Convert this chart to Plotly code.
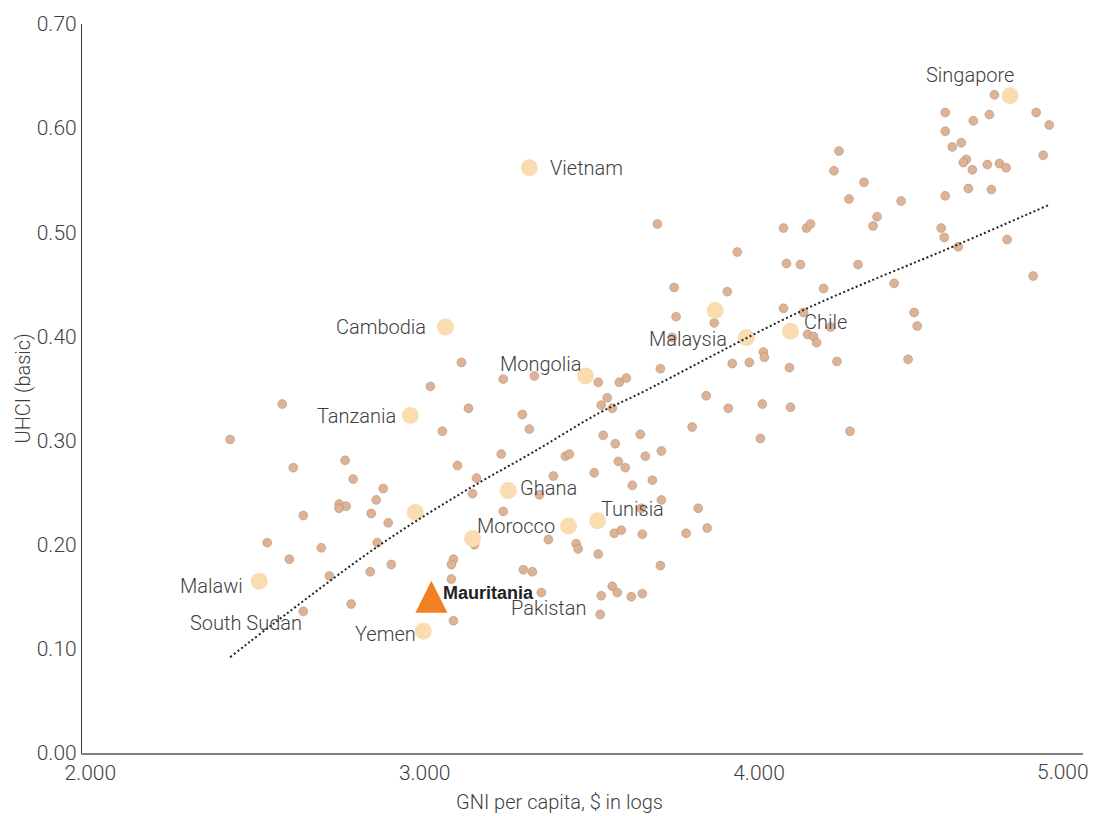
import plotly.graph_objects as go

# Other countries: GNI per capita ($, log10) and UHCI (basic)
other_gni = [2.418, 2.574, 2.607, 2.762, 2.786, 2.876, 2.855, 2.744, 2.765, 2.744,
             2.637, 2.840, 2.891, 2.529, 2.691, 2.858, 2.595, 2.900, 2.837, 2.715,
             2.637, 2.780, 3.086, 3.080, 3.080, 3.086, 3.110, 3.017, 3.235, 3.328,
             3.519, 3.582, 3.603, 3.546, 3.528, 3.561, 3.131, 3.292, 3.313, 3.053,
             3.534, 3.570, 3.645, 3.229, 3.421, 3.433, 3.098, 3.579, 3.600, 3.155,
             3.385, 3.507, 3.621, 3.143, 3.343, 3.235, 3.567, 3.588, 3.370, 3.453,
             3.459, 3.519, 3.149, 3.295, 3.322, 3.561, 3.576, 3.528, 3.618, 3.651,
             3.349, 3.525, 3.705, 3.660, 3.708, 3.681, 3.708, 3.648, 3.818, 3.845,
             3.782, 3.651, 3.800, 3.908, 3.842, 4.010, 4.094, 4.004, 4.272, 3.705,
             3.920, 3.971, 4.013, 4.016, 4.091, 4.233, 4.446, 3.740, 3.752, 3.866,
             4.073, 4.133, 4.464, 4.473, 4.214, 4.145, 4.163, 4.172, 3.746, 3.905,
             4.193, 4.404, 4.820, 3.935, 4.082, 4.124, 4.296, 3.696, 4.073, 4.142,
             4.154, 4.353, 4.341, 4.545, 4.554, 4.596, 4.742, 4.269, 4.425, 4.557,
             4.626, 4.695, 4.224, 4.239, 4.314, 4.578, 4.605, 4.620, 4.611, 4.638,
             4.683, 4.719, 4.739, 4.850, 4.557, 4.557, 4.689, 4.641, 4.829, 4.868,
             4.704]
other_uhci = [0.301, 0.335, 0.274, 0.281, 0.263, 0.254, 0.243, 0.239, 0.237, 0.235,
              0.228, 0.230, 0.221, 0.202, 0.197, 0.202, 0.186, 0.181, 0.174, 0.170,
              0.136, 0.143, 0.186, 0.181, 0.167, 0.127, 0.375, 0.352, 0.359, 0.362,
              0.356, 0.356, 0.360, 0.341, 0.334, 0.331, 0.331, 0.325, 0.311, 0.309,
              0.305, 0.297, 0.306, 0.287, 0.285, 0.287, 0.276, 0.280, 0.274, 0.264,
              0.266, 0.269, 0.257, 0.249, 0.248, 0.232, 0.211, 0.214, 0.205, 0.201,
              0.196, 0.191, 0.200, 0.176, 0.174, 0.160, 0.154, 0.151, 0.150, 0.153,
              0.154, 0.133, 0.180, 0.285, 0.290, 0.262, 0.243, 0.235, 0.235, 0.216,
              0.211, 0.210, 0.313, 0.331, 0.343, 0.335, 0.332, 0.302, 0.309, 0.369,
              0.374, 0.375, 0.385, 0.380, 0.370, 0.376, 0.378, 0.399, 0.419, 0.413,
              0.427, 0.423, 0.423, 0.410, 0.409, 0.402, 0.400, 0.394, 0.447, 0.443,
              0.446, 0.451, 0.458, 0.481, 0.470, 0.469, 0.469, 0.508, 0.504, 0.504,
              0.508, 0.515, 0.506, 0.504, 0.495, 0.486, 0.493, 0.532, 0.530, 0.535,
              0.542, 0.541, 0.559, 0.578, 0.548, 0.582, 0.586, 0.570, 0.567, 0.560,
              0.565, 0.566, 0.562, 0.574, 0.615, 0.597, 0.613, 0.607, 0.615, 0.603,
              0.632]

# Comparator countries (highlighted)
comp_names = ["Singapore", "Vietnam", "Cambodia", "Tanzania", "Mongolia", "Malaysia", "",
              "Chile", "Ghana", "Morocco", "Tunisia", "", "", "Malawi", "Yemen"]
comp_gni = [4.751, 3.313, 3.062, 2.957, 3.481, 3.962, 3.869,
            4.094, 3.250, 3.430, 3.517, 2.972, 3.143, 2.505, 2.996]
comp_uhci = [0.631, 0.562, 0.409, 0.324, 0.362, 0.399, 0.425,
             0.405, 0.252, 0.218, 0.223, 0.231, 0.206, 0.165, 0.117]

# Focus country
focus_name = "Mauritania"
focus_gni = [3.020]
focus_uhci = [0.150]

# Labelled non-comparator countries
extra_names = ["South Sudan", "Pakistan"]
extra_gni = [2.637, 3.349]
extra_uhci = [0.136, 0.154]

# Fitted trend
trend_gni = [2.418, 2.547, 2.867, 3.128, 3.325, 3.525, 3.642, 4.124, 4.593, 4.865]
trend_uhci = [0.092, 0.124, 0.200, 0.253, 0.289, 0.327, 0.345, 0.424, 0.488, 0.526]

y_ticks = [0.0, 0.1, 0.2, 0.3, 0.4, 0.5, 0.6, 0.7]
x_ticks = [2, 3, 4]

FONT = "Roboto, Liberation Sans, Arial, sans-serif"
TXT = "#3f3f3f"
LIGHT = 300

fig = go.Figure()
fig.add_trace(go.Scatter(
    x=other_gni, y=other_uhci, mode="markers",
    marker=dict(size=9, color="#DFB293", line=dict(width=0.6, color="rgba(140,120,110,0.6)")),
    hoverinfo="skip", showlegend=False))
fig.add_trace(go.Scatter(
    x=comp_gni, y=comp_uhci, mode="markers",
    marker=dict(size=17, color="#F9DDB1", line=dict(width=0)),
    hoverinfo="skip", showlegend=False))
fig.add_trace(go.Scatter(
    x=focus_gni, y=focus_uhci, mode="markers",
    marker=dict(symbol="arrow-down", angle=180, standoff=16, size=32, color="#F08023",
                line=dict(width=0)),
    hoverinfo="skip", showlegend=False))
fig.add_trace(go.Scatter(
    x=trend_gni, y=trend_uhci, mode="lines",
    line=dict(color="#222222", width=2, dash="2px,2.5px", shape="spline"),
    hoverinfo="skip", showlegend=False))

# label offsets (px): (xanchor, xshift, yshift)
label_style = {
    "Singapore": ("center", -40, 21),
    "Vietnam": ("left", 19, 0),
    "Cambodia": ("right", -17, 0),
    "Tanzania": ("right", -12, 0),
    "Mongolia": ("right", -2, 12),
    "Malaysia": ("right", -17, -2),
    "Chile": ("left", 12, 9),
    "Ghana": ("left", 10, 3),
    "Morocco": ("right", -11, 0),
    "Tunisia": ("left", 1, 12),
    "Malawi": ("right", -14, -5),
    "Yemen": ("right", -5, -3),
    "South Sudan": ("right", 1, -12),
    "Pakistan": ("center", 8, -15),
}

annotations = []
for n, gx, uy in list(zip(comp_names, comp_gni, comp_uhci)) + list(zip(extra_names, extra_gni, extra_uhci)):
    if not n:
        continue
    xa, xs, ys = label_style[n]
    annotations.append(dict(x=gx, y=uy, xref="x", yref="y", text=n, showarrow=False,
                            xanchor=xa, yanchor="middle", xshift=xs, yshift=ys,
                            font=dict(family=FONT, size=20, color=TXT, weight=LIGHT)))
annotations.append(dict(x=focus_gni[0], y=focus_uhci[0], xref="x", yref="y",
                        text="<b>" + focus_name + "</b>", showarrow=False,
                        xanchor="left", yanchor="middle", xshift=10, yshift=4,
                        font=dict(family="Liberation Sans, Arial, sans-serif", size=18, color="#222222")))
# x-axis end label (justified inside the chart)
annotations.append(dict(x=1, y=0, xref="paper", yref="paper", text="5.000", showarrow=False,
                        xanchor="right", yanchor="middle", xshift=8, yshift=-19,
                        font=dict(family=FONT, size=21, color=TXT, weight=LIGHT)))
# axis titles
annotations.append(dict(x=0.4775, y=0, xref="paper", yref="paper", text="GNI per capita, $ in logs",
                        showarrow=False, xanchor="center", yanchor="middle", yshift=-49,
                        font=dict(family=FONT, size=20, color=TXT, weight=LIGHT)))
annotations.append(dict(x=0, y=0.5, xref="paper", yref="paper", text="UHCI (basic)",
                        showarrow=False, xanchor="center", yanchor="middle", xshift=-60, textangle=-90,
                        font=dict(family=FONT, size=20, color=TXT, weight=LIGHT)))

fig.update_layout(
    width=1098, height=816,
    margin=dict(l=82, r=15, t=16, b=63),
    paper_bgcolor="white", plot_bgcolor="white",
    font=dict(family=FONT, size=20, color=TXT, weight=LIGHT),
    annotations=annotations,
    xaxis=dict(range=[1.975, 4.969], tickvals=x_ticks, tickformat=".3f",
               showgrid=False, zeroline=False, showline=True, linecolor="#808080", linewidth=2,
               ticks="", tickfont=dict(family=FONT, size=21, color=TXT, weight=LIGHT)),
    yaxis=dict(range=[0, 0.7], tickvals=y_ticks, tickformat=".2f",
               showgrid=False, zeroline=False, showline=True, linecolor="#333333", linewidth=1.2,
               ticks="", tickfont=dict(family=FONT, size=21, color=TXT, weight=LIGHT)),
)

fig.write_html("out.html", config={"displayModeBar": False},
               post_script="document.body.style.margin='0px';")
